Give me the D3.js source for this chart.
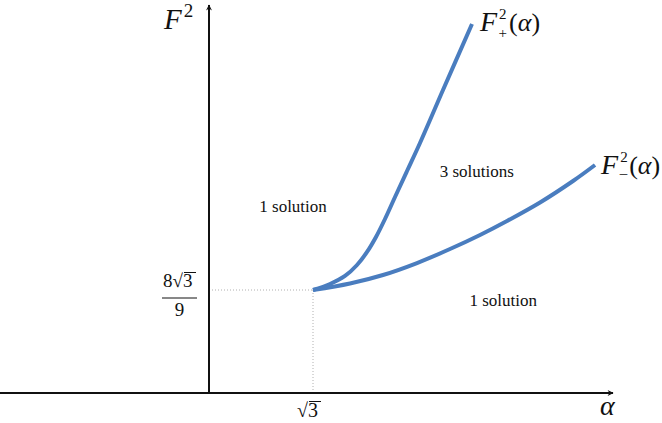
<!DOCTYPE html>
<html>
<head>
<meta charset="utf-8">
<script src="https://cdn.jsdelivr.net/npm/d3@7"></script>
<style>
body { margin: 0; background: #fff; }
svg { display: block; }
</style>
</head>
<body>
<div id="chart"></div>
<script>
// values (alpha, F^2)
var alphaPlus = [1.732, 2.015, 2.265, 2.465, 2.632, 2.781, 2.931, 3.098, 3.298, 3.514, 3.897, 4.380];
var fPlus     = [1.540, 1.629, 1.749, 1.913, 2.108, 2.332, 2.601, 2.930, 3.318, 3.737, 4.529, 5.516];
var alphaMinus = [1.732, 2.348, 2.898, 3.464, 4.014, 4.514, 4.963, 5.513, 6.063, 6.429];
var fMinus     = [1.540, 1.637, 1.764, 1.943, 2.152, 2.362, 2.571, 2.848, 3.169, 3.408];
var critAlpha = Math.sqrt(3),
    critF = 8 * Math.sqrt(3) / 9;
var regions = [
  {text: "1 solution", a: 1.40, f: 2.70},
  {text: "3 solutions", a: 4.46, f: 3.23},
  {text: "1 solution", a: 4.90, f: 1.30}
];

var w = 662, h = 423;
var serif = "'Liberation Serif'";

var svg = d3.select("#chart").append("svg")
  .attr("width", w)
  .attr("height", h);

var x = d3.scaleLinear().domain([0, critAlpha]).range([209, 313]);
var y = d3.scaleLinear().domain([0, critF]).range([393, 290]);

function txt(px, py, size) {
  return svg.append("text")
    .attr("x", px).attr("y", py)
    .style("font-family", serif)
    .style("font-size", size + "px")
    .style("fill", "#111");
}

var defs = svg.append("defs");
defs.append("marker")
  .attr("id", "arr")
  .attr("viewBox", "0 0 10 10")
  .attr("refX", 9).attr("refY", 5)
  .attr("markerWidth", 7).attr("markerHeight", 6)
  .attr("markerUnits", "userSpaceOnUse")
  .attr("orient", "auto")
  .append("path")
  .attr("d", "M0,0 L10,5 L0,10 L3,5 Z")
  .style("fill", "#111");

// dotted guides
svg.append("line")
  .attr("x1", x(0) + 3).attr("x2", x(critAlpha))
  .attr("y1", y(critF)).attr("y2", y(critF))
  .style("stroke", "#b0b0b0").style("stroke-width", 1)
  .style("stroke-dasharray", "1,2");
svg.append("line")
  .attr("x1", x(critAlpha)).attr("x2", x(critAlpha))
  .attr("y1", y(critF)).attr("y2", y(0) - 1)
  .style("stroke", "#b0b0b0").style("stroke-width", 1)
  .style("stroke-dasharray", "1,2");

// axes
svg.append("line")
  .attr("x1", 0).attr("x2", 613)
  .attr("y1", y(0)).attr("y2", y(0))
  .style("stroke", "#111").style("stroke-width", 2)
  .attr("marker-end", "url(#arr)");
svg.append("line")
  .attr("x1", x(0)).attr("x2", x(0))
  .attr("y1", y(0) + 1).attr("y2", 5)
  .style("stroke", "#111").style("stroke-width", 2)
  .attr("marker-end", "url(#arr)");

// curves
var line = d3.line()
  .x(function(d) { return x(d[0]); })
  .y(function(d) { return y(d[1]); })
  .curve(d3.curveCatmullRom.alpha(0.5));

var plus = d3.zip(alphaPlus, fPlus),
    minus = d3.zip(alphaMinus, fMinus);

[plus, minus].forEach(function(s) {
  svg.append("path")
    .datum(s)
    .attr("d", line)
    .style("fill", "none")
    .style("stroke", "#4a7dbf")
    .style("stroke-width", 4)
    .style("stroke-linecap", "butt");
});

// region labels
regions.forEach(function(d) {
  txt(x(d.a), y(d.f), 17)
    .attr("text-anchor", "middle")
    .text(d.text);
});

// axis names
var fy = txt(164, 29, 29);
fy.append("tspan").style("font-style", "italic").text("F");
fy.append("tspan").attr("dx", 2).attr("dy", -12).style("font-size", "19px").text("2");

txt(600, 415, 28).style("font-style", "italic").text("α");

// curve names, one text each so sub/superscripts stay together
function curveName(px, py, sub) {
  var t = txt(px, py, 28);
  t.append("tspan").style("font-style", "italic").text("F");
  t.append("tspan").attr("dx", 2).attr("dy", -12).style("font-size", "15px").text("2");
  t.append("tspan").attr("dx", -8).attr("dy", sub == "+" ? 19 : 16)
    .style("font-size", "15px").text(sub == "+" ? "+" : "\u2013");
  t.append("tspan").attr("dx", 2).attr("dy", sub == "+" ? -7 : -4).style("font-size", "26px").text("(");
  t.append("tspan").style("font-size", "26px").style("font-style", "italic").text("α");
  t.append("tspan").style("font-size", "26px").text(")");
}
var lastP = plus[plus.length - 1], lastM = minus[minus.length - 1];
curveName(x(lastP[0]) + 8, y(lastP[1]) + 7, "+");
curveName(x(lastM[0]) + 6, y(lastM[1]) + 9, "-");

// tick labels
var t1 = txt(x(critAlpha) - 16, 417, 20);
t1.append("tspan").text("√");
t1.append("tspan").text("3");
svg.append("line")
  .attr("x1", x(critAlpha) - 4).attr("x2", x(critAlpha) + 8)
  .attr("y1", 401.5).attr("y2", 401.5)
  .style("stroke", "#111").style("stroke-width", 1);

var t2 = txt(163, y(critF) - 3, 19);
t2.append("tspan").text("8");
t2.append("tspan").text("√");
t2.append("tspan").text("3");
svg.append("line")
  .attr("x1", 184).attr("x2", 196)
  .attr("y1", y(critF) - 17.5).attr("y2", y(critF) - 17.5)
  .style("stroke", "#111").style("stroke-width", 1);
svg.append("line")
  .attr("x1", 162).attr("x2", 197)
  .attr("y1", y(critF) + 8).attr("y2", y(critF) + 8)
  .style("stroke", "#111").style("stroke-width", 1);
txt(179.5, y(critF) + 26, 19)
  .attr("text-anchor", "middle")
  .text("9");
</script>
</body>
</html>
